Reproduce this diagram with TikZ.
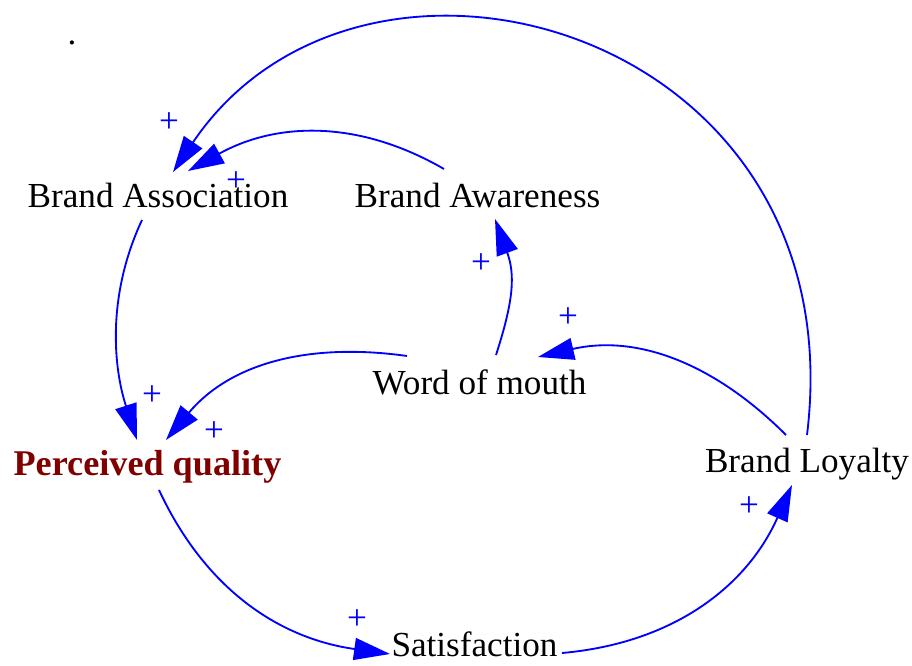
\documentclass[tikz,border=0pt]{standalone}
\usepackage{fontspec}
\setmainfont{Liberation Serif}
\usetikzlibrary{arrows.meta, calc}
\definecolor{pqred}{RGB}{128,0,0}

\begin{document}
\begin{tikzpicture}[
  var/.style={font=\fontsize{20}{24}\selectfont, inner sep=0pt, anchor=base},
  link/.style={draw=blue, line width=1.05pt, -{Triangle[length=7.2mm, width=4.4mm]}},
  plus/.style={blue, font=\fontsize{20}{24}\selectfont, inner sep=0pt}
]
\useasboundingbox (0,0) rectangle (18.24,13.32);

% Variables
\node[var] (dot) at (1.44,12.42) {.};
\node[var] (assoc) at (3.16,9.16) {Brand Association};
\node[var] (aware) at (9.55,9.16) {Brand Awareness};
\node[var] (wom) at (9.59,5.42) {Word of mouth};
\node[var, pqred, font=\fontsize{20.6}{24}\selectfont\bfseries] (pq) at (2.95,3.80) {Perceived quality};
\node[var] (loyal) at (16.14,3.86) {Brand Loyalty};
\node[var] (sat) at (9.49,0.18) {Satisfaction};

% Links
\draw[link] ([shift={(0,0.76)}]loyal.base) .. controls +(83:8.2) and +(56:6.8) .. ([shift={(0.30,0.72)}]assoc.base);
\draw[link] ([shift={(-0.67,0.78)}]aware.base) to[out=150, in=29] ([shift={(0.60,0.74)}]assoc.base);
\draw[link] ([shift={(-0.32,-0.24)}]assoc.base) .. controls +(245:1.7) and +(108:1.5) .. ([shift={(-0.21,0.72)}]pq.base);
\draw[link] ([shift={(-1.45,0.78)}]wom.base) to[out=172, in=50] ([shift={(0.37,0.72)}]pq.base);
\draw[link] ([shift={(0.33,0.80)}]wom.base) to[out=72, in=-70, looseness=1.1] ([shift={(0.35,-0.22)}]aware.base);
\draw[link] ([shift={(-0.42,0.76)}]loyal.base) to[out=135, in=13] ([shift={(1.17,0.76)}]wom.base);
\draw[link] ([shift={(0.23,-0.28)}]pq.base) to[out=-65, in=172] ([shift={(-1.69,0.06)}]sat.base);
\draw[link] ([shift={(1.75,0.08)}]sat.base) to[out=5, in=246] ([shift={(-0.30,-0.24)}]loyal.base);

% Polarities
\node[plus] (p1) at (3.38,10.86) {+};
\node[plus] (p2) at (4.72,9.68) {+};
\node[plus] (p3) at (3.04,5.40) {+};
\node[plus] (p4) at (4.28,4.68) {+};
\node[plus] (p5) at (9.62,8.04) {+};
\node[plus] (p6) at (11.36,6.96) {+};
\node[plus] (p7) at (14.98,3.18) {+};
\node[plus] (p8) at (7.14,0.92) {+};
\end{tikzpicture}
\end{document}
